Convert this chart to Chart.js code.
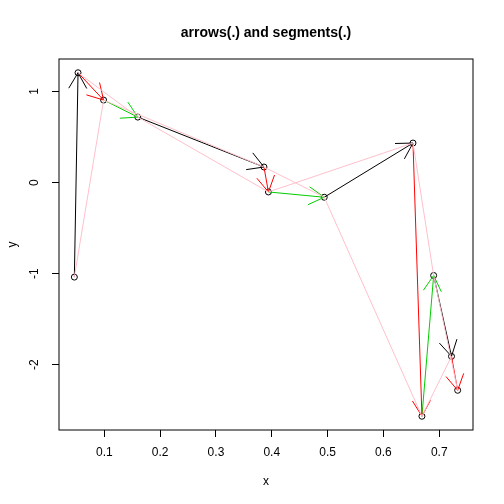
<!DOCTYPE html>
<html><head><meta charset="utf-8">
<script src="https://cdn.jsdelivr.net/npm/chart.js@4"></script>
<style>html,body{margin:0;padding:0;background:#fff}canvas{display:block}</style>
</head><body>
<canvas id="c" width="504" height="504"></canvas>
<script>
// data
const xVals = [0.0463, 0.0529, 0.0987, 0.160, 0.386, 0.394, 0.494, 0.653, 0.669, 0.690, 0.722, 0.733];
const yVals = [-1.038, 1.206, 0.906, 0.719, 0.171, -0.103, -0.161, 0.434, -2.566, -1.020, -1.908, -2.281];
const arrowColors = ['#000000', '#FF0000', '#00CD00'];
const segmentColor = '#FFC0CB';
const xTicks = [0.1, 0.2, 0.3, 0.4, 0.5, 0.6, 0.7];
const yTicks = [-2, -1, 0, 1];
const titleText = 'arrows(.) and segments(.)';
const xLabel = 'x';
const yLabel = 'y';

const pts = xVals.map((x, i) => ({x: x, y: yVals[i]}));
const datasets = [];
datasets.push({data: pts, showLine: false, pointRadius: 3, pointBorderColor: '#000', pointBackgroundColor: 'rgba(0,0,0,0)', pointBorderWidth: 1, order: 3});
for (let i = 0; i < pts.length - 1; i++) {
  datasets.push({data: [pts[i], pts[i + 1]], showLine: true, borderColor: arrowColors[i % 3], borderWidth: 1, pointRadius: 0, order: 2, arrow: true});
}
for (let i = 0; i < pts.length - 2; i++) {
  datasets.push({data: [pts[i], pts[i + 2]], showLine: true, borderColor: segmentColor, borderWidth: 1, pointRadius: 0, order: 1});
}

const arrowHeads = {
  id: 'arrowHeads',
  afterDatasetDraw(chart, args) {
    const ds = chart.data.datasets[args.index];
    if (!ds.arrow) return;
    const p0 = args.meta.data[0], p1 = args.meta.data[1];
    const ang = Math.atan2(p1.y - p0.y, p1.x - p0.x);
    const ctx = chart.ctx;
    ctx.save();
    ctx.strokeStyle = ds.borderColor; ctx.lineWidth = 1;
    ctx.beginPath();
    for (const s of [-1, 1]) {
      const a = ang + Math.PI + s * Math.PI / 6;
      ctx.moveTo(p1.x, p1.y);
      ctx.lineTo(p1.x + 18 * Math.cos(a), p1.y + 18 * Math.sin(a));
    }
    ctx.stroke();
    ctx.restore();
  }
};

const frame = {
  id: 'frame',
  afterDraw(chart) {
    const {ctx, chartArea: a} = chart;
    ctx.save();
    ctx.strokeStyle = '#000'; ctx.lineWidth = 1;
    ctx.strokeRect(a.left, a.top, a.right - a.left, a.bottom - a.top);
    ctx.fillStyle = '#000';
    ctx.font = 'bold 14px "Liberation Sans", Arial, Helvetica, sans-serif';
    ctx.textAlign = 'center'; ctx.textBaseline = 'middle';
    ctx.fillText(titleText, (a.left + a.right) / 2, 33);
    ctx.restore();
  }
};

Chart.defaults.font.family = '"Liberation Sans", Arial, Helvetica, sans-serif';
Chart.defaults.font.size = 12;
Chart.defaults.color = '#000';

new Chart(document.getElementById('c'), {
  type: 'scatter',
  data: {datasets: datasets},
  options: {
    responsive: false,
    animation: false,
    devicePixelRatio: 1,
    layout: {padding: {top: 59, right: 31, left: 0, bottom: 0}},
    plugins: {legend: {display: false}, tooltip: {enabled: false}, title: {display: false}},
    scales: {
      x: {
        type: 'linear', min: 0.0188, max: 0.7605,
        afterBuildTicks: s => { s.ticks = xTicks.map(v => ({value: v})); },
        afterFit: s => { s.height = 74; },
        grid: {drawOnChartArea: false, drawTicks: true, tickLength: 7, color: '#000', tickColor: '#000'},
        border: {display: false},
        ticks: {padding: 8, maxRotation: 0, minRotation: 0, callback: v => String(v)},
        title: {display: true, text: xLabel, font: {size: 12}, padding: {top: 0, bottom: 15}}
      },
      y: {
        type: 'linear', min: -2.717, max: 1.357,
        afterBuildTicks: s => { s.ticks = yTicks.map(v => ({value: v})); },
        afterFit: s => { s.width = 59; },
        grid: {drawOnChartArea: false, drawTicks: true, tickLength: 7, color: '#000', tickColor: '#000'},
        border: {display: false},
        ticks: {padding: 12, minRotation: 90, maxRotation: 90, crossAlign: 'center', callback: v => String(v)},
        title: {display: true, text: yLabel, font: {size: 12}, padding: {top: 5, bottom: 0}}
      }
    }
  },
  plugins: [arrowHeads, frame]
});
</script>
</body></html>
